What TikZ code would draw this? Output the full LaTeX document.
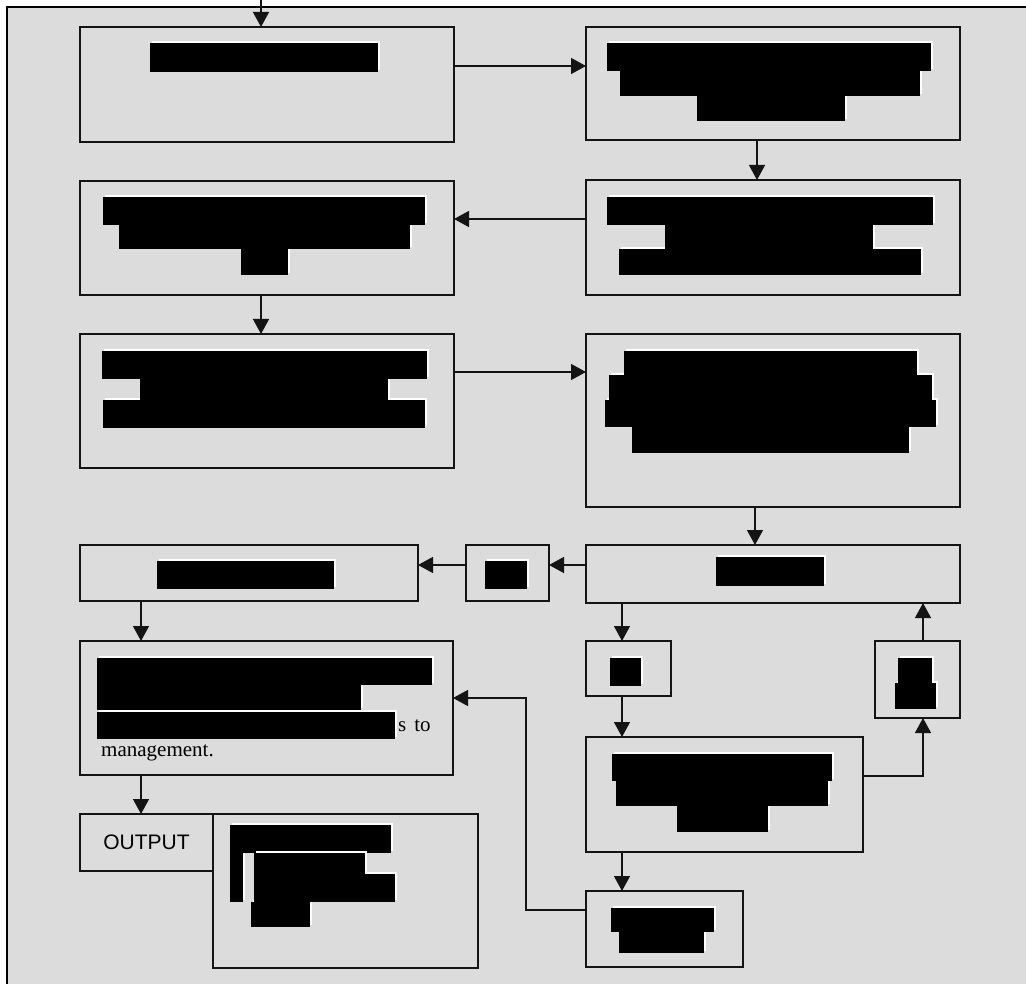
\documentclass[tikz,border=0pt]{standalone}
\usepackage{fontspec}
\setmainfont{Liberation Serif}
\newfontfamily\arialfont{Liberation Sans}
\usetikzlibrary{arrows.meta}
\definecolor{panelgray}{RGB}{220,220,220}
\definecolor{edgeink}{RGB}{20,20,20}
\tikzset{
  boxnode/.style={draw=edgeink, line width=1.5pt, rectangle, inner sep=0pt, outer sep=0pt},
  arr/.style={draw=edgeink, line width=1.3pt, -{Triangle[length=15pt,width=16pt]}},
  plainline/.style={draw=edgeink, line width=1.3pt},
}
\newcommand\redactgroup[1]{%
  \def\blk##1##2##3##4{\fill[white] (##1+2,##2-2) rectangle (##3+2,##4-2);}#1%
  \def\blk##1##2##3##4{\fill[black] (##1,##2) rectangle (##3,##4);}#1}
\begin{document}
\begin{tikzpicture}[x=1pt,y=-1pt]
\useasboundingbox (0,0) rectangle (1026,984);
% outer panel
\fill[white] (0,0) rectangle (1026,984);
\draw[fill=panelgray, draw=black, line width=2.3pt] (7,7) rectangle (1040,1000);

% boxes
\node[boxnode, minimum width=374pt, minimum height=115pt] (b1) at (267,84.5) {};
\node[boxnode, minimum width=374pt, minimum height=113pt] (b2) at (773,83.5) {};
\node[boxnode, minimum width=374pt, minimum height=115pt] (b3) at (773,237.5) {};
\node[boxnode, minimum width=374pt, minimum height=114pt] (b4) at (267,238) {};
\node[boxnode, minimum width=374pt, minimum height=134pt] (b5) at (267,401) {};
\node[boxnode, minimum width=374pt, minimum height=173pt] (b6) at (773,420.5) {};
\node[boxnode, minimum width=374pt, minimum height=58pt] (b7) at (773,574) {};
\node[boxnode, minimum width=83pt, minimum height=56pt] (b8) at (507.5,573) {};
\node[boxnode, minimum width=338pt, minimum height=56pt] (b9) at (249,573) {};
\node[boxnode, minimum width=373pt, minimum height=134pt] (b10) at (266.5,708) {};
\node[boxnode, minimum width=85pt, minimum height=55pt] (b11) at (628.5,668.5) {};
\node[boxnode, minimum width=85pt, minimum height=77pt] (b12) at (917.5,679.5) {};
\node[boxnode, minimum width=277pt, minimum height=115pt] (b14) at (724.5,794.5) {};
\node[boxnode, minimum width=157pt, minimum height=76pt] (b13) at (664.5,929) {};
\node[boxnode, minimum width=265pt, minimum height=154pt] (bbig) at (345.5,891) {};
\node[boxnode, minimum width=133pt, minimum height=57pt, font=\arialfont\fontsize{21}{24}\selectfont] (bout) at (146.5,842.5) {OUTPUT};

% redaction blocks
\redactgroup{\blk{150}{43}{378}{72}}
\redactgroup{\blk{607}{43}{931}{71}\blk{620}{71}{920}{96}\blk{697}{96}{845}{121}}
\redactgroup{\blk{607}{197}{933}{225}\blk{665}{225}{873}{249}\blk{619}{249}{921}{275}}
\redactgroup{\blk{103}{197}{425}{225}\blk{119}{225}{410}{249}\blk{241}{249}{288}{275}}
\redactgroup{\blk{102}{351}{427}{379}\blk{140}{379}{388}{400}\blk{103}{400}{425}{428}}
\redactgroup{\blk{624}{351}{917}{375}\blk{609}{375}{932}{400}\blk{605}{400}{936}{427}\blk{632}{427}{909}{453}}
\redactgroup{\blk{716}{557}{824}{586}}
\redactgroup{\blk{485}{561}{527}{589}}
\redactgroup{\blk{157}{561}{334}{589}}
\redactgroup{\blk{610}{658}{641}{686}}
\redactgroup{\blk{898}{658}{932}{683}\blk{895}{683}{936}{709}}
\redactgroup{\blk{612}{754}{832}{781}\blk{616}{781}{828}{806}\blk{677}{806}{768}{832}}
\redactgroup{\blk{611}{908}{714}{932}\blk{619}{932}{704}{953}}
\redactgroup{\blk{97}{658}{432}{685}\blk{97}{685}{361}{710}}
\redactgroup{\blk{97}{712}{395}{739}}
\redactgroup{\blk{230}{825}{391}{853}\blk{230}{853}{243}{902}}
\redactgroup{\blk{254}{853}{365}{874}\blk{254}{874}{395}{902}\blk{251}{902}{310}{927}}

% texts
\node[anchor=base west, inner sep=0pt, font=\fontsize{21}{24}\selectfont] (t1) at (398,731) {s\hspace{8pt}to};
\node[anchor=base west, inner sep=0pt, font=\fontsize{21}{24}\selectfont] (t2) at (101,756) {management.};

% connectors
\coordinate (topin) at (261,0);
\draw[arr] (topin) -- (topin |- b1.north);
\draw[arr] (b1.east |- 0,66) -- (b2.west |- 0,66);
\draw[arr] (b2.south -| 757,0) -- (b3.north -| 757,0);
\draw[arr] (b3.west |- 0,219) -- (b4.east |- 0,219);
\draw[arr] (b4.south -| 261,0) -- (b5.north -| 261,0);
\draw[arr] (b5.east |- 0,372) -- (b6.west |- 0,372);
\draw[arr] (b6.south -| 755,0) -- (b7.north -| 755,0);
\draw[arr] (b7.west |- 0,565) -- (b8.east |- 0,565);
\draw[arr] (b8.west |- 0,565) -- (b9.east |- 0,565);
\draw[arr] (b9.south -| 141,0) -- (b10.north -| 141,0);
\draw[arr] (b10.south -| 141,0) -- (bout.north -| 141,0);
\draw[arr] (b7.south -| 622,0) -- (b11.north -| 622,0);
\draw[arr] (b12.north -| 923,0) -- (b7.south -| 923,0);
\draw[arr] (b11.south -| 622,0) -- (b14.north -| 622,0);
\draw[arr] (b14.east |- 0,776) -| (b12.south -| 923,0);
\draw[arr] (b14.south -| 622,0) -- (b13.north -| 622,0);
\coordinate (bend) at (526,698);
\draw[arr] (b13.west |- 0,910) -| (bend) -- (b10.east |- 0,698);
\end{tikzpicture}
\end{document}
